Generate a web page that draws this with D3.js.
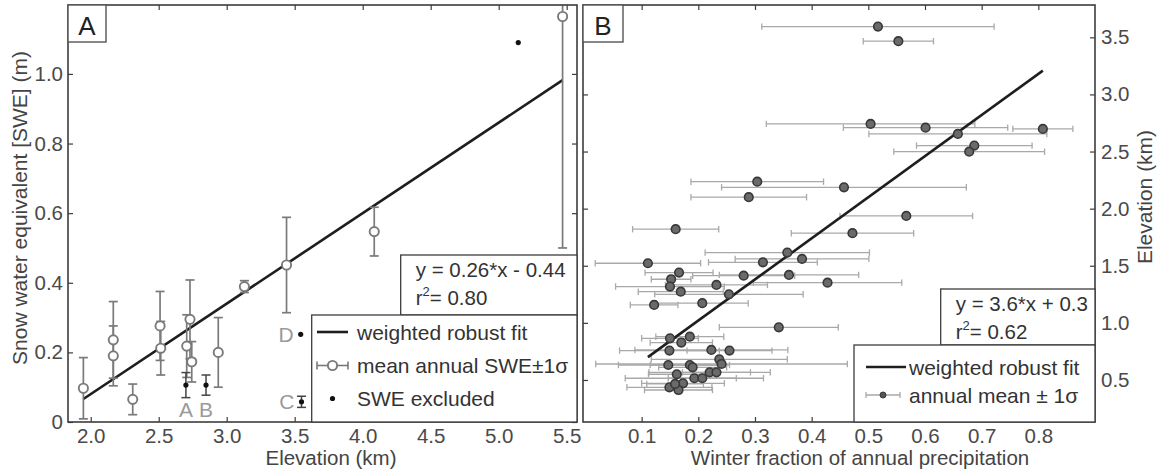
<!DOCTYPE html>
<html>
<head>
<meta charset="utf-8">
<script src="https://cdn.jsdelivr.net/npm/d3@7"></script>
<style>
  html, body { margin: 0; padding: 0; background: #fff; }
  svg { display: block; font-family: "Liberation Sans", Arial, Helvetica, sans-serif; }
</style>
</head>
<body>
<svg id="fig" width="1158" height="470"></svg>
<script>
// ---- Panel A: mean annual SWE vs elevation ----
const sweElev  = [1.946, 2.166, 2.166, 2.309, 2.510, 2.515, 2.706, 2.730, 2.743, 2.938, 3.130, 3.440, 4.085, 5.470];
const sweMean  = [0.097, 0.236, 0.190, 0.065, 0.276, 0.212, 0.218, 0.295, 0.173, 0.200, 0.389, 0.451, 0.547, 1.165];
const sweSigma = [0.088, 0.110, 0.086, 0.044, 0.099, 0.077, 0.090, 0.113, 0.058, 0.100, 0.017, 0.137, 0.070, 0.665];

// excluded stations
const exclName  = ["A", "B", "C", "D", ""];
const exclElev  = [2.700, 2.848, 3.550, 3.544, 5.144];
const exclSwe   = [0.106, 0.106, 0.058, 0.252, 1.090];
const exclSigma = [0.036, 0.029, 0.016, 0, 0];

const fitA = { slope: 0.26, intercept: -0.44, r2: "0.80" };
const xTicksA = [2.0, 2.5, 3.0, 3.5, 4.0, 4.5, 5.0, 5.5];
const yTicksA = [0, 0.2, 0.4, 0.6, 0.8, 1.0];

// ---- Panel B: elevation vs winter fraction of annual precipitation ----
const winFrac = [0.517, 0.553, 0.504, 0.601, 0.808, 0.658, 0.687, 0.678, 0.304, 0.457,
                 0.289, 0.567, 0.160, 0.472, 0.357, 0.383, 0.111, 0.314, 0.166, 0.280,
                 0.360, 0.152, 0.428, 0.150, 0.232, 0.169, 0.254, 0.122, 0.207, 0.150,
                 0.185, 0.170, 0.342, 0.149, 0.223, 0.255, 0.237, 0.241, 0.147, 0.185,
                 0.190, 0.220, 0.232, 0.162, 0.193, 0.207, 0.173, 0.149, 0.165, 0.159];
const stnElev = [3.594, 3.466, 2.742, 2.709, 2.698, 2.654, 2.552, 2.499, 2.236, 2.187,
                 2.100, 1.936, 1.820, 1.785, 1.615, 1.560, 1.522, 1.530, 1.440, 1.413,
                 1.420, 1.382, 1.352, 1.318, 1.332, 1.273, 1.250, 1.157, 1.172, 0.865,
                 0.879, 0.827, 0.961, 0.757, 0.763, 0.757, 0.681, 0.640, 0.631, 0.631,
                 0.611, 0.567, 0.567, 0.550, 0.515, 0.515, 0.471, 0.436, 0.412, 0.465];
const fracSigma = [0.205, 0.062, 0.184, 0.145, 0.053, 0.157, 0.102, 0.133, 0.117, 0.216,
                   0.102, 0.117, 0.076, 0.108, 0.145, 0.118, 0.093, 0.096, 0.060, 0.090,
                   0.123, 0.035, 0.131, 0.096, 0.090, 0.075, 0.131, 0.042, 0.081, 0.050,
                   0.060, 0.055, 0.105, 0.088, 0.135, 0.075, 0.120, 0.222, 0.088, 0.070,
                   0.060, 0.107, 0.060, 0.050, 0.122, 0.060, 0.073, 0.075, 0.060, 0.050];

const fitB = { slope: 3.6, intercept: 0.3, r2: "0.62" };
const xTicksB = [0.1, 0.2, 0.3, 0.4, 0.5, 0.6, 0.7, 0.8];
const yTicksB = [0.5, 1.0, 1.5, 2.0, 2.5, 3.0, 3.5];

// ---- layout ----
const svg = d3.select("#fig");
const A = { l: 68, r: 577, t: 5, b: 422 };
const B = { l: 583, r: 1095, t: 5, b: 422 };
const ink = "#3c3c3c";
const tickFont = "20.5px", titleFont = "20.5px";

const xA = d3.scaleLinear().domain([1.833, 5.576]).range([A.l, A.r]);
const yA = d3.scaleLinear().domain([0, 1.198]).range([A.b, A.t]);
const xB = d3.scaleLinear().domain([-0.0035, 0.9]).range([B.l, B.r]);
const yB = d3.scaleLinear().domain([0.132, 3.783]).range([B.b, B.t]);

const defs = svg.append("defs");
defs.append("clipPath").attr("id", "clipA").append("rect")
  .attr("x", A.l).attr("y", A.t).attr("width", A.r - A.l).attr("height", A.b - A.t);
defs.append("clipPath").attr("id", "clipB").append("rect")
  .attr("x", B.l).attr("y", B.t).attr("width", B.r - B.l).attr("height", B.b - B.t);

// Box-style axes with inward ticks on every side
function frame(P, xs, ys, xt, yt, yLabelSide) {
  const fmt = d3.format(".1f");
  const g = svg.append("g");
  g.append("g").attr("transform", `translate(0,${P.b})`)
    .call(d3.axisBottom(xs).tickValues(xt).tickSize(-5).tickPadding(6).tickFormat(fmt));
  g.append("g").attr("transform", `translate(0,${P.t})`)
    .call(d3.axisTop(xs).tickValues(xt).tickSize(-5).tickFormat(""));
  const yfmt = d => d === 0 ? "0" : fmt(d);
  g.append("g").attr("transform", `translate(${P.l},0)`)
    .call(d3.axisLeft(ys).tickValues(yt).tickSize(-5).tickPadding(5).tickFormat(yLabelSide === "left" ? yfmt : ""));
  g.append("g").attr("transform", `translate(${P.r},0)`)
    .call(d3.axisRight(ys).tickValues(yt).tickSize(-5).tickPadding(6).tickFormat(yLabelSide === "right" ? yfmt : ""));
  g.selectAll(".domain").remove();
  g.selectAll(".tick line").attr("stroke", ink).attr("stroke-width", 1.2);
  g.selectAll(".tick text").attr("fill", "#4a4a4a").style("font-size", tickFont)
    .style("font-family", "'Liberation Sans', Arial, Helvetica, sans-serif");
  g.append("rect").attr("x", P.l).attr("y", P.t).attr("width", P.r - P.l).attr("height", P.b - P.t)
    .attr("fill", "none").attr("stroke", ink).attr("stroke-width", 1.6);
  return g;
}

function panelTag(P, letter, w) {
  svg.append("rect").attr("x", P.l).attr("y", P.t).attr("width", w).attr("height", 37)
    .attr("fill", "#fff").attr("stroke", "#555").attr("stroke-width", 1.4);
  svg.append("text").attr("x", P.l + w / 2).attr("y", P.t + 30).attr("text-anchor", "middle")
    .attr("fill", "#222").style("font-size", "26px").text(letter);
}

// ===== Panel A =====
const gA = svg.append("g").attr("clip-path", "url(#clipA)");
const swe = sweElev.map((x, i) => ({ x, y: sweMean[i], s: sweSigma[i] }));
const excl = exclElev.map((x, i) => ({ x, y: exclSwe[i], s: exclSigma[i], n: exclName[i] }));

// fit line over the range of retained stations
const xr = d3.extent(sweElev);
gA.append("line")
  .attr("x1", xA(xr[0])).attr("y1", yA(fitA.slope * xr[0] + fitA.intercept))
  .attr("x2", xA(xr[1])).attr("y2", yA(fitA.slope * xr[1] + fitA.intercept))
  .attr("stroke", "#1e1e1e").attr("stroke-width", 2.6);

// vertical error bars
const capA = 4.5;
const ebA = gA.append("g").attr("stroke", "#7a7a7a").attr("stroke-width", 1.7).attr("fill", "none");
swe.forEach(d => {
  const x = xA(d.x), y0 = yA(d.y - d.s), y1 = yA(d.y + d.s);
  ebA.append("line").attr("x1", x).attr("x2", x).attr("y1", y0).attr("y2", y1);
  ebA.append("line").attr("x1", x - capA).attr("x2", x + capA).attr("y1", y0).attr("y2", y0);
  ebA.append("line").attr("x1", x - capA).attr("x2", x + capA).attr("y1", y1).attr("y2", y1);
});
const ebX = gA.append("g").attr("stroke", "#444").attr("stroke-width", 1.5);
excl.filter(d => d.s > 0).forEach(d => {
  const x = xA(d.x), y0 = yA(d.y - d.s), y1 = yA(d.y + d.s);
  ebX.append("line").attr("x1", x).attr("x2", x).attr("y1", y0).attr("y2", y1);
  ebX.append("line").attr("x1", x - capA).attr("x2", x + capA).attr("y1", y0).attr("y2", y0);
  ebX.append("line").attr("x1", x - capA).attr("x2", x + capA).attr("y1", y1).attr("y2", y1);
});
gA.selectAll("circle.swe").data(swe).join("circle").attr("class", "swe")
  .attr("cx", d => xA(d.x)).attr("cy", d => yA(d.y)).attr("r", 4.6)
  .attr("fill", "#fff").attr("stroke", "#7a7a7a").attr("stroke-width", 1.9);
gA.selectAll("circle.excl").data(excl).join("circle").attr("class", "excl")
  .attr("cx", d => xA(d.x)).attr("cy", d => yA(d.y)).attr("r", 2.6).attr("fill", "#111");

// station tags: A,B under their points; C,D to the left
excl.filter(d => d.n).forEach(d => {
  const t = svg.append("text").attr("fill", "#9a9a9a").style("font-size", "21px").text(d.n);
  if (d.n === "A" || d.n === "B") {
    t.attr("x", xA(d.x)).attr("y", A.b - 5).attr("text-anchor", "middle");
  } else {
    t.attr("x", xA(d.x) - 7).attr("y", yA(d.y) + 7.5).attr("text-anchor", "end");
  }
});

frame(A, xA, yA, xTicksA, yTicksA, "left");
panelTag(A, "A", 38);

// equation and legend boxes
function eqBox(x, y, w, h, eq, r2) {
  svg.append("rect").attr("x", x).attr("y", y).attr("width", w).attr("height", h)
    .attr("fill", "#fff").attr("stroke", ink).attr("stroke-width", 1.3);
  svg.append("text").attr("x", x + 15).attr("y", y + 22).attr("fill", "#333")
    .style("font-size", "20.5px").text(eq);
  const t = svg.append("text").attr("x", x + 15).attr("y", y + 50).attr("fill", "#333").style("font-size", "20.5px");
  t.append("tspan").text("r");
  t.append("tspan").attr("dy", -9).style("font-size", "13px").text("2");
  t.append("tspan").attr("dy", 9).text("= " + r2);
}
eqBox(400.7, 255, A.r - 400.7, 60, "y = 0.26*x - 0.44", fitA.r2);

const legA = { x: 311.7, y: 315, w: A.r - 311.7, h: A.b - 315 };
svg.append("rect").attr("x", legA.x).attr("y", legA.y).attr("width", legA.w).attr("height", legA.h)
  .attr("fill", "#fff").attr("stroke", ink).attr("stroke-width", 1.3);
const lx0 = 317, lx1 = 348, lxc = (lx0 + lx1) / 2, ltx = 357;
const rowsA = [332, 365.5, 398.5];
svg.append("line").attr("x1", lx0).attr("x2", lx1).attr("y1", rowsA[0]).attr("y2", rowsA[0])
  .attr("stroke", "#1e1e1e").attr("stroke-width", 2.6);
const lg = svg.append("g").attr("stroke", "#7a7a7a").attr("stroke-width", 1.6);
lg.append("line").attr("x1", lx0).attr("x2", lx1).attr("y1", rowsA[1]).attr("y2", rowsA[1]);
lg.append("line").attr("x1", lx0).attr("x2", lx0).attr("y1", rowsA[1] - 4).attr("y2", rowsA[1] + 4);
lg.append("line").attr("x1", lx1).attr("x2", lx1).attr("y1", rowsA[1] - 4).attr("y2", rowsA[1] + 4);
svg.append("circle").attr("cx", lxc).attr("cy", rowsA[1]).attr("r", 4.6)
  .attr("fill", "#fff").attr("stroke", "#7a7a7a").attr("stroke-width", 1.9);
svg.append("circle").attr("cx", lxc).attr("cy", rowsA[2]).attr("r", 2.6).attr("fill", "#111");
["weighted robust fit", "mean annual SWE\u00B11\u03C3", "SWE excluded"].forEach((s, i) => {
  svg.append("text").attr("x", ltx).attr("y", rowsA[i] + 7.5).attr("fill", "#333")
    .style("font-size", "21px").text(s);
});

// ===== Panel B =====
const gB = svg.append("g").attr("clip-path", "url(#clipB)");
const stn = winFrac.map((x, i) => ({ x, y: stnElev[i], s: fracSigma[i] }));
const capB = 3.2;
const ebB = gB.append("g").attr("stroke", "#a9a9a9").attr("stroke-width", 1.3);
stn.forEach(d => {
  const y = yB(d.y), x0 = xB(d.x - d.s), x1 = xB(d.x + d.s);
  ebB.append("line").attr("x1", x0).attr("x2", x1).attr("y1", y).attr("y2", y);
  ebB.append("line").attr("x1", x0).attr("x2", x0).attr("y1", y - capB).attr("y2", y + capB);
  ebB.append("line").attr("x1", x1).attr("x2", x1).attr("y1", y - capB).attr("y2", y + capB);
});
const fr = d3.extent(winFrac);
gB.append("line")
  .attr("x1", xB(fr[0])).attr("y1", yB(fitB.slope * fr[0] + fitB.intercept))
  .attr("x2", xB(fr[1])).attr("y2", yB(fitB.slope * fr[1] + fitB.intercept))
  .attr("stroke", "#1e1e1e").attr("stroke-width", 2.6);
gB.selectAll("circle.stn").data(stn).join("circle").attr("class", "stn")
  .attr("cx", d => xB(d.x)).attr("cy", d => yB(d.y)).attr("r", 4.3)
  .attr("fill", "#6a6a6a").attr("stroke", "#383838").attr("stroke-width", 1.6);

frame(B, xB, yB, xTicksB, yTicksB, "right");
panelTag(B, "B", 40);

eqBox(940.7, 289, B.r - 940.7, 56, "y = 3.6*x + 0.3", fitB.r2);
const legB = { x: 854, y: 345, w: B.r - 854, h: B.b - 345 };
svg.append("rect").attr("x", legB.x).attr("y", legB.y).attr("width", legB.w).attr("height", legB.h)
  .attr("fill", "#fff").attr("stroke", ink).attr("stroke-width", 1.3);
const rowsB = [367, 395];
svg.append("line").attr("x1", 866).attr("x2", 906).attr("y1", rowsB[0]).attr("y2", rowsB[0])
  .attr("stroke", "#1e1e1e").attr("stroke-width", 2.6);
const lgB = svg.append("g").attr("stroke", "#a9a9a9").attr("stroke-width", 1.3);
lgB.append("line").attr("x1", 866).attr("x2", 900).attr("y1", rowsB[1]).attr("y2", rowsB[1]);
lgB.append("line").attr("x1", 866).attr("x2", 866).attr("y1", rowsB[1] - 3).attr("y2", rowsB[1] + 3);
lgB.append("line").attr("x1", 900).attr("x2", 900).attr("y1", rowsB[1] - 3).attr("y2", rowsB[1] + 3);
svg.append("circle").attr("cx", 883).attr("cy", rowsB[1]).attr("r", 3)
  .attr("fill", "#555").attr("stroke", "#383838").attr("stroke-width", 1);
["weighted robust fit", "annual mean \u00B1 1\u03C3"].forEach((s, i) => {
  svg.append("text").attr("x", 909).attr("y", rowsB[i] + 7.5).attr("fill", "#333")
    .style("font-size", "21px").text(s);
});

// ===== axis titles =====
svg.append("text").attr("transform", "translate(27,208) rotate(-90)").attr("text-anchor", "middle")
  .attr("fill", "#444").style("font-size", "21px").text("Snow water equivalent [SWE] (m)");
svg.append("text").attr("x", 331).attr("y", 465).attr("text-anchor", "middle")
  .attr("fill", "#444").style("font-size", titleFont).text("Elevation (km)");
svg.append("text").attr("x", 860).attr("y", 465).attr("text-anchor", "middle")
  .attr("fill", "#444").style("font-size", titleFont).text("Winter fraction of annual precipitation");
svg.append("text").attr("transform", "translate(1152,197) rotate(-90)").attr("text-anchor", "middle")
  .attr("fill", "#444").style("font-size", "21px").text("Elevation (km)");
</script>
</body>
</html>
